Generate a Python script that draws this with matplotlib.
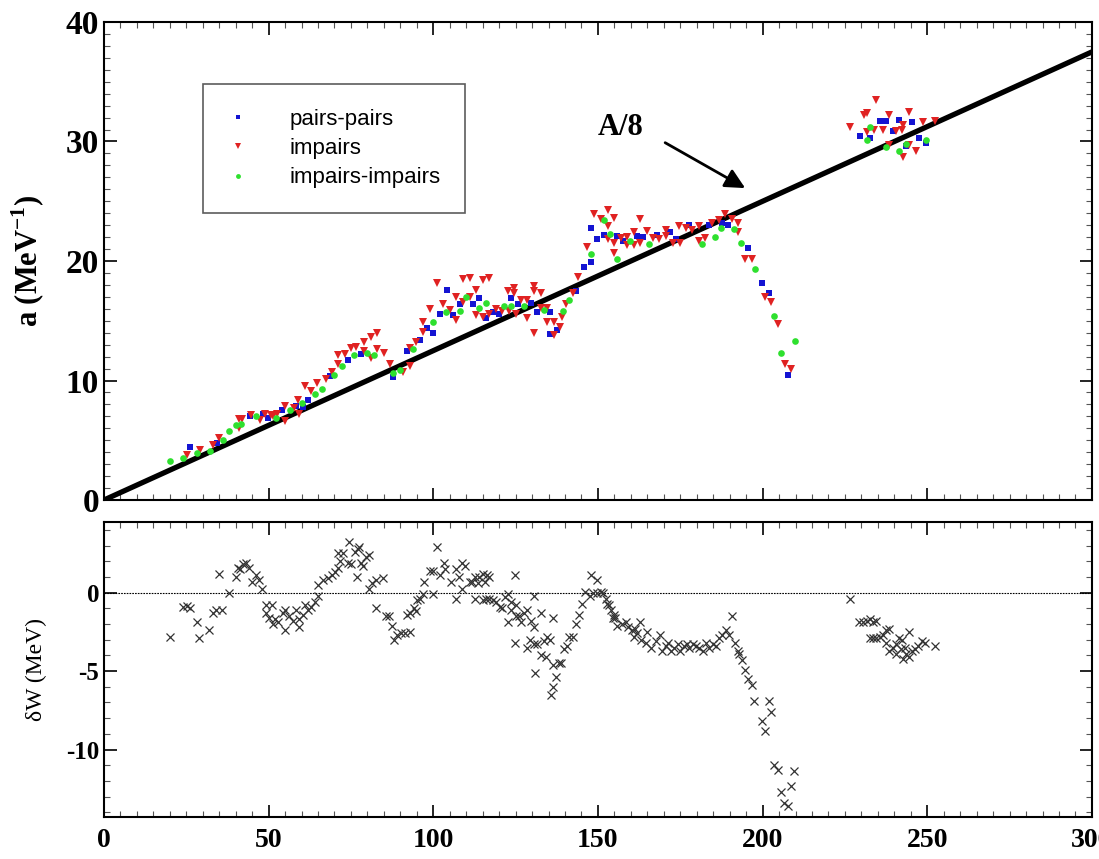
import numpy as np
import matplotlib
matplotlib.use("Agg")
import matplotlib.pyplot as plt
from matplotlib.ticker import MultipleLocator
from matplotlib.lines import Line2D

plt.rcParams['font.family'] = 'Liberation Serif'
plt.rcParams['font.weight'] = 'bold'
plt.rcParams['mathtext.fontset'] = 'custom'
plt.rcParams['mathtext.rm'] = 'Liberation Serif:bold'
plt.rcParams['mathtext.bf'] = 'Liberation Serif:bold'

# pairs-pairs (A, a)
pairs_pairs = np.array([
    (26.1, 4.4), (34.2, 4.8), (44.2, 7.0), (48.2, 7.2), (49.9, 6.9), (54, 7.5), (58.3, 7.9),
    (60.3, 7.8), (62, 8.4), (68.7, 10.4), (74.2, 11.7), (78, 12.2), (87.9, 10.3), (91.9, 12.5),
    (96, 13.4), (98, 14.4), (100, 14.0), (102, 15.6), (104.1, 17.6), (106, 15.5), (108, 16.4),
    (112, 16.4), (114, 16.9), (116, 15.2), (118, 15.7), (120, 15.6), (123.6, 16.9), (125.6, 16.4),
    (129.6, 16.5), (131.6, 15.7), (135.3, 15.7), (135.3, 13.9), (137.6, 14.2), (143.3, 17.5),
    (145.8, 19.5), (147.8, 19.9), (147.8, 22.8), (149.8, 21.8), (151.8, 22.2), (155.9, 22.1),
    (157.7, 21.7), (161.8, 22.1), (163.8, 22.0), (167.8, 22.2), (171.8, 22.4), (173.8, 21.8),
    (177.6, 23.0), (183.6, 23.0), (187.6, 23.2), (189.6, 23.0), (195.7, 21.1), (199.8, 18.2),
    (201.8, 17.3), (207.7, 10.5), (229.6, 30.5), (232.5, 30.3), (235.7, 31.7), (237.5, 31.7),
    (239.5, 30.9), (241.5, 31.8), (243.6, 29.6), (245.5, 31.6), (247.6, 30.3), (249.6, 29.9),
])

# impairs (A, a)
impairs = np.array([
    (25.1, 3.8), (29.2, 4.2), (33.2, 4.6), (35, 5.2), (41, 6.0), (41.1, 6.8), (42, 6.8),
    (44.5, 7.1), (47.3, 6.7), (48.8, 7.2), (50.6, 7.1), (51.3, 7.0), (52.6, 7.2), (55, 6.6),
    (55, 7.9), (57.6, 7.7), (59, 8.4), (59.2, 7.2), (61, 9.5), (63, 9.1), (64.8, 9.8), (67.5, 10.1),
    (69.2, 10.7), (71.2, 12.1), (71.2, 11.4), (73.2, 12.2), (74.9, 12.7), (76.6, 12.8), (79, 13.2),
    (79, 12.5), (81, 13.6), (81, 11.9), (83, 14.0), (83, 12.6), (85, 12.3), (86.9, 11.4),
    (90.9, 10.7), (92.9, 11.2), (92.9, 12.7), (94.8, 13.2), (96.8, 14.1), (97, 14.9), (99, 16.0),
    (101, 18.2), (103, 16.4), (105, 15.9), (107, 15.1), (107, 17.0), (109, 16.6), (109, 18.5),
    (111, 17.0), (111, 18.6), (113, 17.6), (113, 15.5), (115, 15.3), (115, 18.4), (116.9, 18.6),
    (117, 15.6), (119, 16.0), (121, 15.8), (122.6, 17.5), (123, 15.8), (124.6, 17.7), (124.6, 17.3),
    (125, 15.6), (126.6, 16.7), (128.6, 15.2), (128.6, 16.7), (130.6, 17.9), (130.6, 17.5),
    (130.6, 14.0), (132.6, 17.3), (132.6, 16.1), (134.6, 16.1), (134.6, 14.9), (136.6, 14.9),
    (136.6, 13.8), (138.6, 14.5), (139, 15.3), (140.3, 16.4), (142.3, 17.3), (143.9, 18.7),
    (146.8, 21.2), (148.8, 23.9), (150.8, 23.5), (152.9, 24.3), (152.9, 22.9), (152.9, 21.8),
    (154.8, 23.6), (154.8, 21.5), (154.8, 20.7), (156.9, 21.9), (158.8, 22.0), (158.8, 21.3),
    (160.8, 22.4), (160.8, 21.3), (162.8, 23.5), (162.8, 21.5), (164.8, 22.5), (166.6, 21.9),
    (168.6, 21.8), (170.6, 22.6), (170.8, 22.1), (172.8, 21.5), (174.8, 21.5), (174.6, 22.9),
    (176.6, 22.8), (178.6, 22.6), (180.6, 22.9), (180.6, 21.7), (182.6, 21.9), (184.6, 23.2),
    (186.6, 23.4), (188.6, 23.9), (190.6, 23.5), (192.5, 23.2), (192.5, 22.4), (194.7, 20.2),
    (196.7, 20.2), (200.6, 17.0), (202.6, 16.6), (204.6, 14.7), (206.7, 11.4), (208.7, 11.0),
    (226.6, 31.2), (230.7, 32.2), (231.7, 32.4), (234.5, 33.5), (231.7, 30.8), (233.7, 31.0),
    (236.5, 31.0), (238.5, 32.2), (238.5, 29.7), (240.5, 30.9), (242.5, 31.4), (242.2, 31.0),
    (242.6, 28.7), (244.5, 32.5), (244.5, 29.7), (246.6, 29.2), (248.6, 31.6), (252.3, 31.7),
])

# impairs-impairs (A, a)
impairs_impairs = np.array([
    (20, 3.3), (24.1, 3.5), (28.2, 3.9), (32.2, 4.1), (36, 5.0), (38, 5.8), (40.1, 6.3),
    (41.7, 6.4), (46.2, 7.0), (52.2, 6.9), (56.6, 7.5), (60, 8.1), (64, 8.9), (66.1, 9.3),
    (69.9, 10.5), (72.2, 11.2), (75.9, 12.1), (79.9, 12.3), (82, 12.1), (87.9, 10.6), (89.9, 10.9),
    (93.9, 12.6), (100, 14.9), (104, 15.7), (108, 15.8), (110, 17.0), (114, 16.1), (116, 16.5),
    (121.6, 16.2), (123.6, 16.2), (127.6, 16.2), (133.6, 15.9), (139.4, 15.8), (141.3, 16.7),
    (147.8, 20.6), (151.8, 23.4), (153.6, 22.3), (155.9, 20.2), (159.8, 21.7), (165.6, 21.4),
    (181.6, 21.4), (185.4, 22.0), (187.4, 22.8), (191.3, 22.7), (193.3, 21.5), (197.7, 19.3),
    (203.6, 15.4), (205.5, 12.3), (209.7, 13.3), (231.7, 30.1), (232.5, 31.2), (237.5, 29.5),
    (241.5, 29.2), (243.6, 29.8), (249.6, 30.1),
])

# correction de couches dW (A, MeV)
delta_w = np.array([
    (20, -2.8), (24.1, -0.9), (25.1, -0.85), (26.1, -1.0), (28.2, -1.9), (29, -2.9), (32, -2.4),
    (33, -1.3), (34, -1.1), (35.8, -1.1), (35, 1.2), (38, 0.0), (40, 1.0), (40.8, 1.6), (41.3, 1.5),
    (42.1, 1.8), (43.1, 1.9), (44.1, 1.6), (45.1, 0.7), (46.1, 1.1), (47.1, 0.8), (48.1, 0.2),
    (49.2, -0.76), (50.9, -0.76), (49.2, -1.3), (50.2, -1.6), (51.2, -2.0), (51.9, -1.7),
    (52.9, -1.9), (54.3, -1.3), (55, -1.1), (55, -2.4), (56.3, -1.5), (57.3, -1.8), (58.3, -1.1),
    (59.3, -1.7), (59.3, -2.2), (60.3, -1.4), (61, -0.76), (62, -1.1), (63, -0.9), (64.1, -0.6),
    (65.1, -0.2), (65.1, 0.5), (66.6, 0.8), (68.1, 0.9), (69.1, 1.1), (70.1, 1.3), (71.1, 1.6),
    (71.8, 2.0), (71.1, 2.5), (72.5, 2.5), (74.1, 1.9), (74.5, 3.2), (75.1, 1.8), (76.1, 2.6),
    (77.1, 2.8), (77.5, 2.9), (76.8, 1.0), (78.1, 1.9), (78.6, 1.7), (80.6, 2.4), (79.6, 2.3),
    (80.6, 0.2), (81.4, 0.6), (82.6, 0.8), (84.6, 0.9), (82.6, -1.0), (85.6, -1.5), (86.6, -1.5),
    (87.6, -2.1), (88.1, -3.0), (89.1, -2.7), (90.1, -2.6), (91.5, -2.6), (93, -2.5), (92, -1.4),
    (93, -1.3), (94, -1.0), (94.6, -1.2), (95.1, -0.5), (95.9, -0.4), (96.9, -0.1), (97.3, 0.7),
    (98.9, 1.4), (99.9, 1.4), (99.9, -0.1), (101, 2.9),
    (101.9, 1.1), (103.1, 1.9), (103.6, 1.5), (105.4, 0.7), (106.9, 1.5), (106.9, -0.4),
    (107.7, 1.0), (108.7, 1.9), (109.7, 1.7), (108.7, 0.2), (111, 0.7), (111.7, 0.7), (112.7, 1.0),
    (114, 1.0), (115, 1.2), (116.2, 1.1), (117, 1.0), (115.7, 0.7), (113.7, 0.6), (112.7, -0.4),
    (115, -0.5), (116, -0.4), (117, -0.4), (118, -0.5), (119, -0.6), (120.2, -0.9), (121, -1.0),
    (121.7, -0.3), (122.7, -0.1), (124.8, 1.1), (122.7, -1.9), (123.7, -0.6), (123.7, -1.1),
    (125, -0.8), (125, -1.5), (126, -1.5), (126.6, -1.9), (124.8, -3.2), (127.6, -1.3),
    (128.6, -1.1), (129.6, -1.8), (130.6, -0.2), (130.6, -2.2), (132.6, -1.3), (128.6, -3.5),
    (129.3, -3.0), (130.6, -3.3), (131.6, -3.3), (130.9, -5.1), (132.6, -4.0), (133.6, -3.1),
    (134.6, -2.8), (135.3, -3.0), (134.3, -4.1), (136.3, -4.6), (136.3, -1.6), (138.1, -4.5),
    (138.9, -4.5), (137.3, -5.4), (136.3, -6.0), (135.7, -6.5), (139.6, -3.6), (140.6, -3.4),
    (141.3, -2.8), (142.3, -2.8), (143.3, -2.0), (144.3, -1.4), (145.3, -0.7), (146.1, 0.05),
    (147.8, 1.1), (149.6, 0.8), (147.6, -0.2), (148.6, 0.0), (149.6, -0.05), (150.8, 0.05),
    (151.6, 0.0), (152.3, -0.4), (152.6, -0.7), (153.3, -0.8), (154, -1.1), (154.8, -1.4),
    (155.3, -1.6), (154.6, -1.6), (155.9, -2.1), (157.4, -2.0), (158.4, -1.9), (159.2, -2.2),
    (160.2, -2.4), (161.2, -2.3), (162.8, -1.9), (160.8, -2.8), (162, -2.6), (163.2, -3.0),
    (164.5, -3.2), (164.9, -2.5), (166, -3.5), (167.6, -3.1), (168.9, -2.7), (169.4, -3.7),
    (170.7, -3.4), (171.4, -3.2), (172.2, -3.7), (173.2, -3.5), (174.2, -3.3), (175, -3.7),
    (176, -3.4), (177, -3.3), (177.7, -3.5), (178.8, -3.3), (179.8, -3.4), (180.8, -3.5),
    (181.8, -3.7), (182.8, -3.2), (183.8, -3.5), (184.8, -3.3), (185.8, -3.4), (186.8, -2.9),
    (187.8, -2.7), (188.8, -2.4), (189.8, -2.7), (190.7, -1.5),
    (191.7, -3.2), (192.4, -3.7), (192.9, -3.9), (193.7, -4.3), (194.7, -4.9), (195.7, -5.5),
    (196.7, -5.9), (197.4, -6.9), (201.8, -6.9), (202.5, -7.6), (199.8, -8.2), (200.8, -8.8),
    (203.5, -11.0), (204.8, -11.3), (209.6, -11.4), (208.6, -12.3), (205.6, -12.7), (206.6, -13.4),
    (207.6, -13.6),
    (226.4, -0.4), (229.4, -1.9), (230.4, -1.9), (231.6, -1.8), (232.6, -1.7), (233.4, -1.9),
    (234.4, -1.8), (232.5, -2.9), (233.5, -2.9), (234.5, -2.9), (235.5, -2.8), (236.5, -2.7),
    (237.5, -2.4), (238.5, -2.3), (237.5, -3.2), (238.5, -3.7), (239.5, -3.5), (240.5, -3.3),
    (241.5, -2.9), (242.2, -3.0), (240.5, -3.9), (241.9, -3.6), (242.6, -4.2), (243.3, -3.5),
    (243.6, -3.9), (244.4, -2.5), (244.5, -4.1), (245.3, -3.7), (246.3, -3.6), (247.3, -3.4),
    (248.3, -3.1), (249.3, -3.2), (252.3, -3.4),
])

line_A = np.array([0, 300])

fig = plt.figure(figsize=(10.99, 8.59), dpi=100)
ax1 = fig.add_axes([0.0946, 0.4179, 0.899, 0.5565])
ax2 = fig.add_axes([0.0946, 0.0489, 0.899, 0.3434])

blue = '#1414d2'
red = '#e02222'
green = '#2ee02e'

# panneau du haut
ax1.plot(line_A, line_A / 8, color='black', lw=3.8, zorder=2)
ax1.plot(pairs_pairs[:, 0], pairs_pairs[:, 1], 's', color=blue, ms=4.5, mew=0, zorder=3)
ax1.plot(impairs[:, 0], impairs[:, 1], 'v', color=red, ms=5.5, mew=0, zorder=3)
ax1.plot(impairs_impairs[:, 0], impairs_impairs[:, 1], 'o', color=green, ms=4.8, mew=0, zorder=3)
ax1.set_xlim(0, 300)
ax1.set_ylim(0, 40)
ax1.yaxis.set_major_locator(MultipleLocator(10))
ax1.yaxis.set_minor_locator(MultipleLocator(1))
ax1.xaxis.set_major_locator(MultipleLocator(50))
ax1.xaxis.set_minor_locator(MultipleLocator(5))
ax1.set_xticklabels([])
ax1.tick_params(axis='y', labelsize=24)
ax1.set_ylabel(r'a (MeV$^{\mathbf{-1}}$)', fontsize=22, fontweight='bold')
ax1.yaxis.set_label_coords(-0.058, 0.5)

ax1.text(157, 31.2, 'A/8', fontsize=22, fontweight='bold', ha='center', va='center')
ax1.annotate('', xy=(194.7, 26.1), xytext=(170.4, 29.9),
             arrowprops=dict(arrowstyle='-|>', color='black', lw=2, mutation_scale=30,
                             shrinkA=0, shrinkB=0))

handles = [
    Line2D([], [], ls='', marker='s', color=blue, ms=3.5, mew=0),
    Line2D([], [], ls='', marker='v', color=red, ms=4, mew=0),
    Line2D([], [], ls='', marker='o', color=green, ms=3.5, mew=0),
]
leg = ax1.legend(handles, ['pairs-pairs', 'impairs', 'impairs-impairs'],
                 loc='upper left', bbox_to_anchor=(0.1, 0.87), frameon=True, fancybox=False,
                 prop=dict(family='Liberation Sans', weight='normal', size=16),
                 borderpad=1.1, labelspacing=0.38, handlelength=1.0, handletextpad=1.8,
                 borderaxespad=0)
leg.get_frame().set_edgecolor('#333333')
leg.get_frame().set_linewidth(1.2)

# panneau du bas
ax2.axhline(0, color='black', lw=0.8, ls=(0, (1.5, 1)), zorder=1)
ax2.plot(delta_w[:, 0], delta_w[:, 1], 'x', color='#333333', ms=6, mew=0.9, zorder=3)
ax2.set_xlim(0, 300)
ax2.set_ylim(-14.3, 4.5)
ax2.yaxis.set_major_locator(MultipleLocator(5))
ax2.yaxis.set_minor_locator(MultipleLocator(1))
ax2.xaxis.set_major_locator(MultipleLocator(50))
ax2.xaxis.set_minor_locator(MultipleLocator(5))
ax2.tick_params(axis='y', labelsize=18)
ax2.tick_params(axis='x', labelsize=20, pad=8)
ax2.set_yticks([0, -5, -10])
ax2.set_yticklabels(['0', '-5', '-10'])
ax2.set_ylabel('δW (MeV)', fontsize=17, fontweight='normal')
ax2.yaxis.set_label_coords(-0.058, 0.5)

for ax in (ax1, ax2):
    ax.tick_params(which='both', direction='in', top=True, right=True)
    ax.tick_params(which='major', length=9, width=1.2)
    ax.tick_params(which='minor', length=4, width=0.8, color='#555555')
    for s in ax.spines.values():
        s.set_linewidth(1.5)

fig.savefig('out.png', dpi=100)
